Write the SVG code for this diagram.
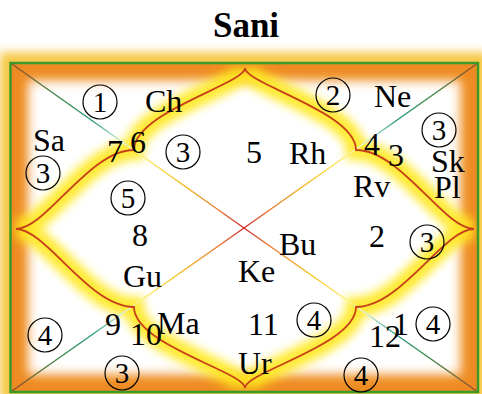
<svg xmlns="http://www.w3.org/2000/svg" width="482" height="394" viewBox="0 0 482 394">
<style>
.t{font-family:"Liberation Serif","Times New Roman",serif;font-size:32px;fill:#000}
.c{font-family:"Liberation Serif","Times New Roman",serif;font-size:29px;fill:#000;text-anchor:middle}
.ring{fill:none;stroke:#000;stroke-width:1.2}
.curve{fill:none;stroke:#c8401a;stroke-width:1.8}
.glow{fill:none;stroke:#ffe81a;stroke-width:20;opacity:0.9}
.diag{fill:none;stroke-width:1.5}
</style>
<defs>
<filter id="b5" x="-20%" y="-20%" width="140%" height="140%"><feGaussianBlur stdDeviation="5"/></filter>
<filter id="b6" x="-20%" y="-20%" width="140%" height="140%"><feGaussianBlur stdDeviation="6"/></filter>
<clipPath id="inner"><rect x="10.5" y="63" width="467.5" height="329"/></clipPath>
<linearGradient id="gTL" gradientUnits="userSpaceOnUse" x1="10.5" y1="63" x2="244" y2="228">
<stop offset="0" stop-color="#9a4a2a"/><stop offset="0.2" stop-color="#3f8a4a"/><stop offset="0.35" stop-color="#2a9a7a"/><stop offset="0.48" stop-color="#d8eee6"/><stop offset="0.56" stop-color="#fff27a"/><stop offset="0.72" stop-color="#f0c020"/><stop offset="0.88" stop-color="#e88030"/><stop offset="1" stop-color="#d03030"/>
</linearGradient>
<linearGradient id="gTR" gradientUnits="userSpaceOnUse" x1="478" y1="63" x2="244" y2="228">
<stop offset="0" stop-color="#9a4a2a"/><stop offset="0.2" stop-color="#3f8a4a"/><stop offset="0.35" stop-color="#2a9a7a"/><stop offset="0.48" stop-color="#d8eee6"/><stop offset="0.56" stop-color="#fff27a"/><stop offset="0.72" stop-color="#f0c020"/><stop offset="0.88" stop-color="#e88030"/><stop offset="1" stop-color="#d03030"/>
</linearGradient>
<linearGradient id="gBL" gradientUnits="userSpaceOnUse" x1="10.5" y1="392" x2="244" y2="228">
<stop offset="0" stop-color="#9a4a2a"/><stop offset="0.2" stop-color="#3f8a4a"/><stop offset="0.35" stop-color="#2a9a7a"/><stop offset="0.48" stop-color="#d8eee6"/><stop offset="0.56" stop-color="#fff27a"/><stop offset="0.72" stop-color="#f0c020"/><stop offset="0.88" stop-color="#e88030"/><stop offset="1" stop-color="#d03030"/>
</linearGradient>
<linearGradient id="gBR" gradientUnits="userSpaceOnUse" x1="478" y1="392" x2="244" y2="228">
<stop offset="0" stop-color="#9a4a2a"/><stop offset="0.2" stop-color="#3f8a4a"/><stop offset="0.35" stop-color="#2a9a7a"/><stop offset="0.48" stop-color="#d8eee6"/><stop offset="0.56" stop-color="#fff27a"/><stop offset="0.72" stop-color="#f0c020"/><stop offset="0.88" stop-color="#e88030"/><stop offset="1" stop-color="#d03030"/>
</linearGradient>
<path id="lotus" d="M245,68 C245,84 356,112 356,150 C401,150 444,229 474,229 C444,229 401,307 356,307 C356,345 245,372 245,388 C245,372 134,345 134,307 C89,307 46,229 16,229 C46,229 89,150 134,150 C134,112 245,84 245,68 Z"/>
</defs>
<rect width="482" height="394" fill="#fff"/>
<text x="246" y="37" text-anchor="middle" style="font-family:'Liberation Serif','Times New Roman',serif;font-size:35px;font-weight:bold">Sani</text>
<g id="frame">
<rect x="10.5" y="63" width="467.5" height="329" fill="none" stroke="#f7c948" stroke-width="22" filter="url(#b5)"/>
<g clip-path="url(#inner)"><rect x="10.5" y="63" width="467.5" height="329" fill="none" stroke="#ee8a22" stroke-width="34" filter="url(#b6)"/></g>
</g>
<g id="connectors">
<use href="#lotus" class="glow" filter="url(#b5)"/>
<line class="diag" x1="10.5" y1="63" x2="244" y2="228" stroke="url(#gTL)"/>
<line class="diag" x1="478" y1="63" x2="244" y2="228" stroke="url(#gTR)"/>
<line class="diag" x1="10.5" y1="392" x2="244" y2="228" stroke="url(#gBL)"/>
<line class="diag" x1="478" y1="392" x2="244" y2="228" stroke="url(#gBR)"/>
<use href="#lotus" class="curve"/>
<rect x="10.5" y="63" width="467.5" height="329" fill="none" stroke="#3a9a2a" stroke-width="2.5"/>
</g>
<g id="house-top">
<text class="t" x="246" y="163">5</text>
<text class="t" x="289" y="164">Rh</text>
<circle class="ring" cx="183" cy="152" r="17"/><text class="c" x="183" y="162">3</text>
</g>
<g id="house-top-left">
<circle class="ring" cx="100" cy="102" r="17"/><text class="c" x="100" y="112">1</text>
<text class="t" x="145" y="112">Ch</text>
<text class="t" x="130" y="153">6</text>
</g>
<g id="house-left-top">
<text class="t" x="33" y="151">Sa</text>
<circle class="ring" cx="43" cy="173" r="17"/><text class="c" x="43" y="183">3</text>
<text class="t" x="107" y="162">7</text>
</g>
<g id="house-left">
<circle class="ring" cx="128" cy="198" r="17"/><text class="c" x="128" y="208">5</text>
<text class="t" x="132" y="246">8</text>
<text class="t" x="123" y="287">Gu</text>
</g>
<g id="house-left-bottom">
<text class="t" x="105" y="335">9</text>
<circle class="ring" cx="45" cy="335" r="17"/><text class="c" x="45" y="345">4</text>
</g>
<g id="house-bottom-left">
<text class="t" x="130" y="345">10</text>
<text class="t" x="157" y="334">Ma</text>
<circle class="ring" cx="122" cy="373" r="17"/><text class="c" x="122" y="383">3</text>
</g>
<g id="house-bottom">
<text class="t" x="238" y="282">Ke</text>
<text class="t" x="279" y="255">Bu</text>
<text class="t" x="248" y="335">11</text>
<circle class="ring" cx="314" cy="320" r="17"/><text class="c" x="314" y="330">4</text>
<text class="t" x="238" y="374">Ur</text>
</g>
<g id="house-bottom-right">
<text class="t" x="369" y="347">12</text>
<circle class="ring" cx="361" cy="375" r="17"/><text class="c" x="361" y="385">4</text>
</g>
<g id="house-right-bottom">
<text class="t" x="393" y="335">1</text>
<circle class="ring" cx="433" cy="324" r="17"/><text class="c" x="433" y="334">4</text>
</g>
<g id="house-right">
<text class="t" x="369" y="247">2</text>
<circle class="ring" cx="427" cy="242" r="17"/><text class="c" x="427" y="252">3</text>
<text class="t" x="353" y="197">Rv</text>
</g>
<g id="house-right-top">
<text class="t" x="388" y="166">3</text>
<circle class="ring" cx="439" cy="130" r="17"/><text class="c" x="439" y="140">3</text>
<text class="t" x="431" y="172">Sk</text>
<text class="t" x="434" y="198">Pl</text>
</g>
<g id="house-top-right">
<text class="t" x="364" y="155">4</text>
<circle class="ring" cx="333" cy="95" r="17"/><text class="c" x="333" y="105">2</text>
<text class="t" x="374" y="107">Ne</text>
</g>
</svg>
